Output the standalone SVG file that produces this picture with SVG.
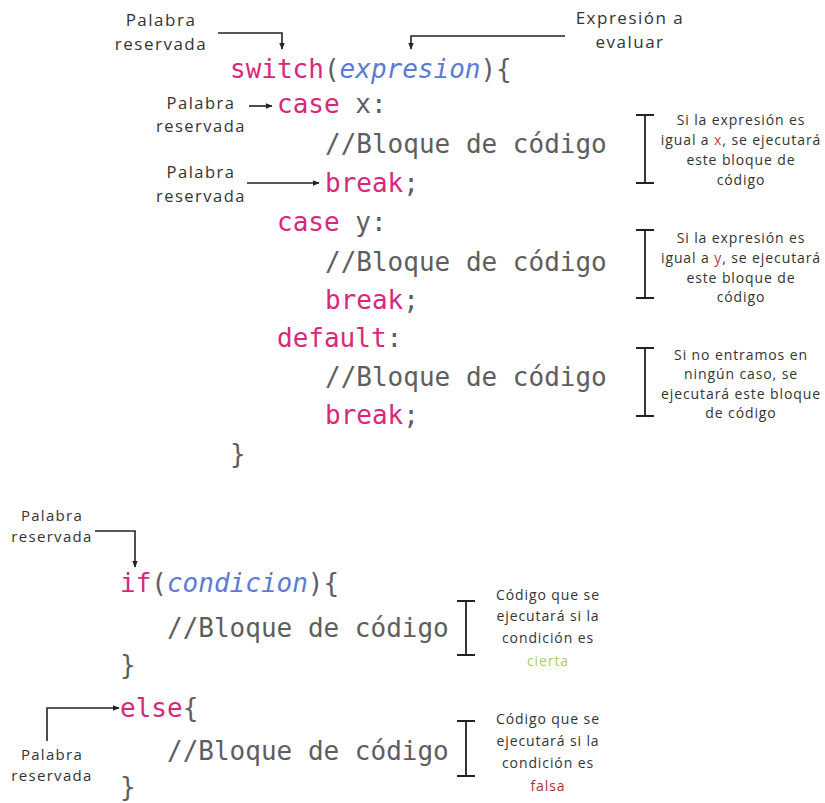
<svg xmlns="http://www.w3.org/2000/svg" width="825" height="803" viewBox="0 0 825 803">
<defs>
<marker id="ah" viewBox="0 0 10 10" refX="9" refY="5" markerWidth="7" markerHeight="7" orient="auto" markerUnits="userSpaceOnUse">
<path d="M0,1 L10,5 L0,9 z" fill="#222"/>
</marker>
<style>
.code{font-family:"DejaVu Sans Mono","Liberation Mono",monospace;font-size:26px;fill:#5e5e5e}
.kw{fill:#d8287c}
.ex{fill:#5b7bd5;font-style:italic}
.lbl{font-family:"Open Sans","Noto Sans",sans-serif;fill:#333;text-anchor:middle}
.l16{font-size:17px;letter-spacing:1.5px}
.l14{font-size:16.5px;letter-spacing:1.5px}
.l13{font-size:14px;letter-spacing:0.9px}
.lb{font-size:15px;letter-spacing:1.3px}
.ln{fill:none;stroke:#222;stroke-width:1.6}
.br{fill:none;stroke:#222;stroke-width:1.8}
</style>
</defs>
<rect width="825" height="803" fill="#fff"/>

<g id="code-switch" class="code">
<text x="230" y="78"><tspan class="kw">switch</tspan>(<tspan class="ex">expresion</tspan>){</text>
<text x="277" y="113"><tspan class="kw">case</tspan> x:</text>
<text x="325" y="153">//Bloque de código</text>
<text x="325" y="192"><tspan class="kw">break</tspan>;</text>
<text x="277" y="231"><tspan class="kw">case</tspan> y:</text>
<text x="325" y="271">//Bloque de código</text>
<text x="325" y="309"><tspan class="kw">break</tspan>;</text>
<text x="277" y="347"><tspan class="kw">default</tspan>:</text>
<text x="325" y="386">//Bloque de código</text>
<text x="325" y="424"><tspan class="kw">break</tspan>;</text>
<text x="230" y="463">}</text>
</g>

<g id="code-if" class="code">
<text x="120" y="592"><tspan class="kw">if</tspan>(<tspan class="ex">condicion</tspan>){</text>
<text x="167" y="637">//Bloque de código</text>
<text x="120" y="674">}</text>
<text x="120" y="717"><tspan class="kw">else</tspan>{</text>
<text x="167" y="760">//Bloque de código</text>
<text x="120" y="796">}</text>
</g>

<g id="label-switch-kw" class="lbl l16">
<text x="161" y="26">Palabra</text>
<text x="161" y="50">reservada</text>
</g>
<g id="label-expresion" class="lbl l16">
<text x="630" y="24">Expresión a</text>
<text x="630" y="48">evaluar</text>
</g>
<g id="label-case-kw" class="lbl l14">
<text x="201" y="109">Palabra</text>
<text x="201" y="132">reservada</text>
</g>
<g id="label-break-kw" class="lbl l14">
<text x="201" y="178">Palabra</text>
<text x="201" y="202">reservada</text>
</g>
<g id="label-if-kw" class="lbl lb">
<text x="52" y="521">Palabra</text>
<text x="52" y="542">reservada</text>
</g>
<g id="label-else-kw" class="lbl lb">
<text x="52" y="760">Palabra</text>
<text x="52" y="781">reservada</text>
</g>

<g id="note-case-x">
<path class="br" d="M645,115 V183 M636,115 H654 M636,183 H654"/>
<g class="lbl l13">
<text x="741" y="125">Si la expresión es</text>
<text x="741" y="145">igual a <tspan fill="#d23a3a">x</tspan>, se ejecutará</text>
<text x="741" y="165">este bloque de</text>
<text x="741" y="185">código</text>
</g>
</g>
<g id="note-case-y">
<path class="br" d="M645,230 V298 M636,230 H654 M636,298 H654"/>
<g class="lbl l13">
<text x="741" y="243">Si la expresión es</text>
<text x="741" y="263">igual a <tspan fill="#c0303a">y</tspan>, se ejecutará</text>
<text x="741" y="283">este bloque de</text>
<text x="741" y="302">código</text>
</g>
</g>
<g id="note-default">
<path class="br" d="M645,348 V416 M636,348 H654 M636,416 H654"/>
<g class="lbl l13">
<text x="741" y="360">Si no entramos en</text>
<text x="741" y="379">ningún caso, se</text>
<text x="741" y="399">ejecutará este bloque</text>
<text x="741" y="418">de código</text>
</g>
</g>
<g id="note-cierta">
<path class="br" d="M466,601 V655 M457,601 H475 M457,655 H475"/>
<g class="lbl l13">
<text x="548" y="600">Código que se</text>
<text x="548" y="621">ejecutará si la</text>
<text x="548" y="643">condición es</text>
<text x="548" y="666" fill="#a8d060">cierta</text>
</g>
</g>
<g id="note-falsa">
<path class="br" d="M466,721 V776 M457,721 H475 M457,776 H475"/>
<g class="lbl l13">
<text x="548" y="724">Código que se</text>
<text x="548" y="746">ejecutará si la</text>
<text x="548" y="768">condición es</text>
<text x="548" y="791" fill="#b03038">falsa</text>
</g>
</g>

<g id="connectors">
<path class="ln" d="M218,33 H282 V49" marker-end="url(#ah)"/>
<path class="ln" d="M565,36 H411 V49" marker-end="url(#ah)"/>
<path class="ln" d="M249,106 H272" marker-end="url(#ah)"/>
<path class="ln" d="M247,183 H319" marker-end="url(#ah)"/>
<path class="ln" d="M95,531 H135 V567" marker-end="url(#ah)"/>
<path class="ln" d="M47,741 V708 H119" marker-end="url(#ah)"/>
</g>
</svg>
